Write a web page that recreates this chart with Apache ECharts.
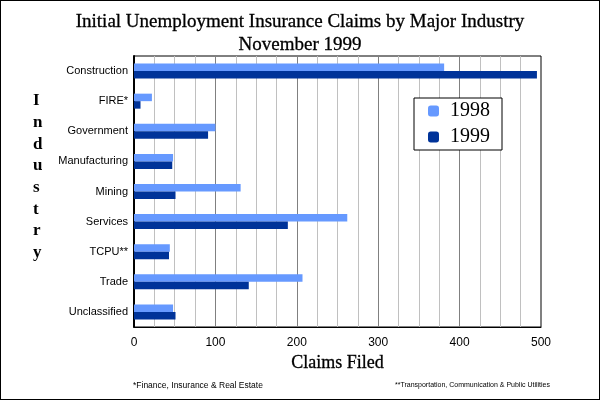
<!DOCTYPE html>
<html>
<head>
<meta charset="utf-8">
<script src="https://cdn.jsdelivr.net/npm/echarts@6/dist/echarts.min.js"></script>
<style>
  html, body { margin: 0; padding: 0; background: #fff; }
  #chart { width: 600px; height: 400px; box-sizing: border-box; border: 1px solid #000; }
</style>
</head>
<body>
<div id="chart"></div>
<script>
// 数据
const industries = ['Construction', 'FIRE*', 'Government', 'Manufacturing', 'Mining', 'Services', 'TCPU**', 'Trade', 'Unclassified'];
const claims1998 = [381, 22, 100, 48, 131, 262, 44, 207, 48];
const claims1999 = [495, 8, 91, 47, 51, 189, 43, 141, 51];
const seriesNames = ['1998', '1999'];
const yTitle = 'Industry';
const footnote1 = '*Finance, Insurance & Real Estate';
const footnote2 = '**Transportation, Communication & Public Utilities';

function initChart() {
    const dom = document.getElementById('chart');
    const chart = echarts.init(dom);

    const serif = '"Liberation Serif", "DejaVu Serif", serif';
    const sans = '"Liberation Sans", "DejaVu Sans", sans-serif';

    const option = {
        animation: false,
        backgroundColor: '#fff',
        title: {
            text: 'Initial Unemployment Insurance Claims by Major Industry\nNovember 1999',
            left: 'center',
            top: 5,
            textStyle: { fontFamily: serif, fontSize: 19, fontWeight: 500, color: '#000', lineHeight: 23, textBorderColor: '#000', textBorderWidth: 0.3 }
        },
        grid: {
            left: 133, right: 58, top: 55, bottom: 72,
            show: true, borderColor: '#000', borderWidth: 1
        },
        legend: {
            data: seriesNames,
            orient: 'vertical',
            right: 97,
            top: 97,
            padding: [3, 12, 3, 14],
            itemGap: 6,
            itemWidth: 11,
            itemHeight: 11,
            borderColor: '#000',
            borderWidth: 1,
            backgroundColor: '#fff',
            textStyle: { fontFamily: serif, fontSize: 20, lineHeight: 20, color: '#000', padding: [0, 0, 0, 6] }
        },
        xAxis: {
            type: 'value',
            min: 0,
            max: 500,
            interval: 100,
            name: 'Claims Filed',
            nameLocation: 'middle',
            nameGap: 25,
            nameTextStyle: { fontFamily: serif, fontSize: 18, fontWeight: 500, color: '#000', textBorderColor: '#000', textBorderWidth: 0.3 },
            axisLine: { show: true, lineStyle: { color: '#000', width: 1 } },
            axisTick: { show: false },
            axisLabel: { fontFamily: sans, fontSize: 12, color: '#000', margin: 10 },
            splitLine: { show: true, lineStyle: { color: '#808080', width: 1 } },
            minorTick: { show: false, splitNumber: 4 },
            minorSplitLine: { show: true, lineStyle: { color: '#c0c0c0', width: 1 } }
        },
        yAxis: {
            type: 'category',
            data: industries,
            inverse: true,
            axisLine: { show: true, lineStyle: { color: '#000', width: 2 } },
            axisTick: { show: false },
            axisLabel: { fontFamily: sans, fontSize: 11, color: '#000', margin: 6 }
        },
        series: [
            {
                name: seriesNames[0],
                type: 'bar',
                data: claims1998,
                barWidth: 7.5,
                barGap: '0%',
                itemStyle: { color: '#6699ff' }
            },
            {
                name: seriesNames[1],
                type: 'bar',
                data: claims1999,
                barWidth: 7.5,
                barGap: '0%',
                itemStyle: { color: '#003399' }
            }
        ],
        graphic: [
            {
                type: 'text',
                left: 32,
                top: 89,
                style: {
                    text: yTitle.split('').join('\n'),
                    fontFamily: serif,
                    fontSize: 17,
                    fontWeight: 'bold',
                    fill: '#000',
                    lineHeight: 21.7,
                    align: 'center'
                }
            },
            {
                type: 'text',
                left: 132,
                top: 380,
                style: { text: footnote1, fontFamily: sans, fontSize: 8.5, fill: '#000' }
            },
            {
                type: 'text',
                left: 394,
                top: 381,
                style: { text: footnote2, fontFamily: sans, fontSize: 7, fill: '#000' }
            }
        ]
    };

    chart.setOption(option);
}

document.addEventListener('DOMContentLoaded', initChart);
</script>
</body>
</html>
